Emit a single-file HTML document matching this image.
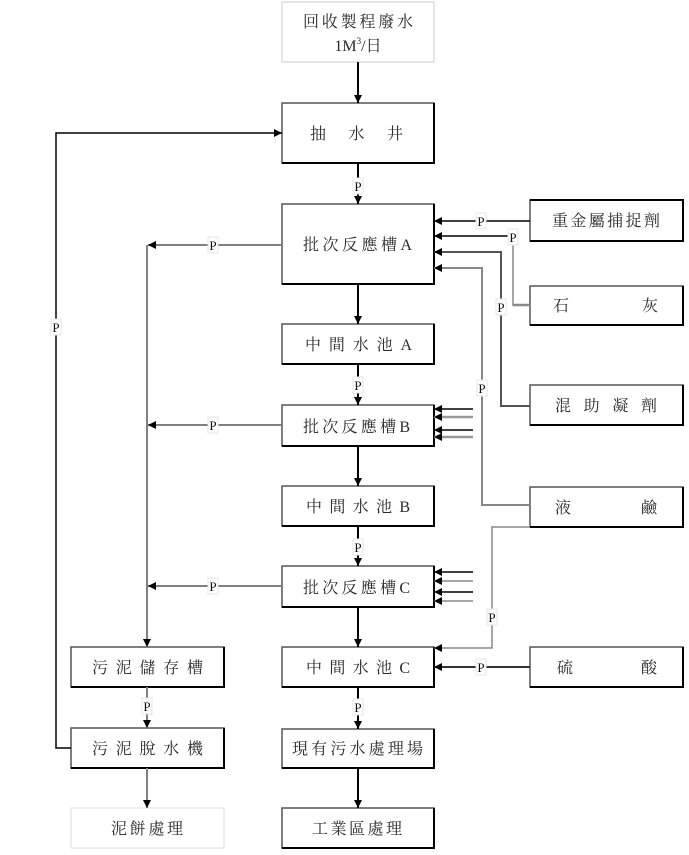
<!DOCTYPE html>
<html><head><meta charset="utf-8"><style>
html,body{margin:0;padding:0;background:#fff;}
svg{display:block;}
text{font-family:"Liberation Serif","Noto Serif CJK SC","Noto Serif CJK TC",serif;fill:#2a2a2a;font-size:16px;}
.p{font-size:13px;fill:#111;}
</style></head><body>
<svg width="689" height="855" viewBox="0 0 689 855" xmlns="http://www.w3.org/2000/svg">
<defs>
<marker id="ah" markerUnits="userSpaceOnUse" markerWidth="9" markerHeight="9" refX="8" refY="4" orient="auto">
<path d="M0,0 L8,4 L0,8 z" fill="#000"/>
</marker>
</defs>

<!-- top box -->
<rect x="282" y="2" width="152" height="60" fill="#fff" stroke="#ccc" stroke-width="1"/>
<text x="303" y="27" textLength="110" lengthAdjust="spacing">回收製程廢水</text>
<text x="358" y="51" text-anchor="middle">1M<tspan font-size="9" dy="-7">3</tspan><tspan dy="7">/日</tspan></text>

<!-- main column boxes -->
<g fill="#fff" stroke="#555" stroke-width="1.5">
<rect x="282" y="103" width="152" height="60"/>
<rect x="282" y="204" width="152" height="80"/>
<rect x="282" y="324" width="152" height="40"/>
<rect x="282" y="405" width="152" height="41"/>
<rect x="282" y="486" width="152" height="40"/>
<rect x="282" y="566" width="152" height="41"/>
<rect x="282" y="647" width="152" height="40"/>
<rect x="282" y="729" width="152" height="39"/>
<rect x="282" y="808" width="152" height="40"/>
<rect x="71" y="647" width="153" height="40"/>
<rect x="71" y="728" width="153" height="40"/>
<rect x="530" y="200" width="153" height="41"/>
<rect x="530" y="286" width="153" height="39"/>
<rect x="530" y="385" width="153" height="40"/>
<rect x="530" y="487" width="153" height="40"/>
<rect x="530" y="647" width="153" height="40"/>
</g>
<!-- darker bottom / right edges -->
<g stroke="#000" stroke-width="2" fill="none">
<path d="M282,163 H434 V103"/>
<path d="M282,284 H434 V204"/>
<path d="M282,364 H434 V324"/>
<path d="M282,446 H434 V405"/>
<path d="M282,526 H434 V486"/>
<path d="M282,607 H434 V566"/>
<path d="M282,687 H434 V647"/>
<path d="M282,768 H434 V729"/>
<path d="M282,848 H434 V808"/>
<path d="M71,687 H224 V647"/>
<path d="M71,768 H224 V728"/>
<path d="M530,241 H683 V200 H530"/>
<path d="M530,325 H683 V286"/>
<path d="M530,425 H683 V385"/>
<path d="M530,527 H683 V487"/>
<path d="M530,687 H683 V647"/>
</g>
<!-- 泥餅處理 light box -->
<rect x="71" y="808" width="153" height="40" fill="#fff" stroke="#ddd" stroke-width="1"/>

<!-- box texts -->
<text x="310" y="139" textLength="93" lengthAdjust="spacing">抽水井</text>
<text x="303" y="250" textLength="109" lengthAdjust="spacing">批次反應槽A</text>
<text x="305" y="350" textLength="107" lengthAdjust="spacing">中間水池A</text>
<text x="303" y="432" textLength="107" lengthAdjust="spacing">批次反應槽B</text>
<text x="306" y="512" textLength="104" lengthAdjust="spacing">中間水池B</text>
<text x="303" y="593" textLength="107" lengthAdjust="spacing">批次反應槽C</text>
<text x="306" y="673" textLength="104" lengthAdjust="spacing">中間水池C</text>
<text x="292" y="754" textLength="131" lengthAdjust="spacing">現有污水處理場</text>
<text x="312" y="834" textLength="90" lengthAdjust="spacing">工業區處理</text>
<text x="92" y="673" textLength="111" lengthAdjust="spacing">污泥儲存槽</text>
<text x="92" y="754" textLength="111" lengthAdjust="spacing">污泥脫水機</text>
<text x="111" y="834" textLength="72" lengthAdjust="spacing">泥餅處理</text>
<text x="552" y="226" textLength="108" lengthAdjust="spacing">重金屬捕捉劑</text>
<text x="553" y="311" textLength="105" lengthAdjust="spacing">石灰</text>
<text x="555" y="411" textLength="102" lengthAdjust="spacing">混助凝劑</text>
<text x="555" y="513" textLength="102" lengthAdjust="spacing">液鹼</text>
<text x="557" y="673" textLength="100" lengthAdjust="spacing">硫酸</text>

<!-- center arrows -->
<g stroke="#000" stroke-width="2" fill="none" marker-end="url(#ah)">
<line x1="358" y1="62" x2="358" y2="103"/>
<line x1="358" y1="163" x2="358" y2="204"/>
<line x1="358" y1="284" x2="358" y2="324"/>
<line x1="358" y1="364" x2="358" y2="405"/>
<line x1="358" y1="446" x2="358" y2="486"/>
<line x1="358" y1="526" x2="358" y2="566"/>
<line x1="358" y1="607" x2="358" y2="647"/>
<line x1="358" y1="687" x2="358" y2="729"/>
<line x1="358" y1="768" x2="358" y2="808"/>
</g>

<!-- left gray sludge lines -->
<g stroke="#808080" stroke-width="2" fill="none" marker-end="url(#ah)">
<line x1="282" y1="245" x2="148" y2="245"/>
<line x1="282" y1="425" x2="148" y2="425"/>
<line x1="282" y1="586" x2="148" y2="586"/>
<line x1="147" y1="245" x2="147" y2="647"/>
<line x1="147" y1="687" x2="147" y2="728"/>
<line x1="147" y1="768" x2="147" y2="808"/>
</g>
<!-- return line -->
<polyline points="71,748 56,748 56,133 282,133" stroke="#000" stroke-width="1.5" fill="none" marker-end="url(#ah)"/>

<!-- right chemical lines -->
<line x1="530" y1="221" x2="434" y2="221" stroke="#000" stroke-width="1.5" marker-end="url(#ah)"/>
<line x1="513" y1="236" x2="434" y2="236" stroke="#000" stroke-width="1.5" marker-end="url(#ah)"/>
<polyline points="513,236 513,305 530,305" stroke="#888" stroke-width="1.5" fill="none"/>
<line x1="513" y1="305" x2="530" y2="305" stroke="#888" stroke-width="2.5"/>
<polyline points="530,406 501,406 501,252 434,252" stroke="#555" stroke-width="2" fill="none" marker-end="url(#ah)"/>
<polyline points="530,505 482,505 482,268 434,268" stroke="#888" stroke-width="2" fill="none" marker-end="url(#ah)"/>
<polyline points="530,527 492,527 492,648 434,648" stroke="#888" stroke-width="1.5" fill="none" marker-end="url(#ah)"/>
<line x1="530" y1="667" x2="434" y2="667" stroke="#333" stroke-width="2" marker-end="url(#ah)"/>

<!-- B inputs -->
<g fill="none" marker-end="url(#ah)">
<line x1="473" y1="409" x2="434" y2="409" stroke="#000" stroke-width="1.5"/>
<line x1="473" y1="417" x2="434" y2="417" stroke="#999" stroke-width="2.5"/>
<line x1="473" y1="430" x2="434" y2="430" stroke="#000" stroke-width="1.5"/>
<line x1="473" y1="437" x2="434" y2="437" stroke="#999" stroke-width="2.5"/>
<line x1="473" y1="572" x2="434" y2="572" stroke="#000" stroke-width="1.5"/>
<line x1="473" y1="581" x2="434" y2="581" stroke="#888" stroke-width="1.5"/>
<line x1="473" y1="592" x2="434" y2="592" stroke="#000" stroke-width="1.5"/>
<line x1="473" y1="601" x2="434" y2="601" stroke="#888" stroke-width="1.5"/>
</g>

<!-- P labels -->
<g>
<g transform="translate(358,186)"><rect x="-5" y="-8" width="10" height="16" fill="#fff" stroke="#e4e4e4"/><text class="p" x="0" y="5" text-anchor="middle">P</text></g>
<g transform="translate(358,385)"><rect x="-5" y="-8" width="10" height="16" fill="#fff" stroke="#e4e4e4"/><text class="p" x="0" y="5" text-anchor="middle">P</text></g>
<g transform="translate(358,547)"><rect x="-5" y="-8" width="10" height="16" fill="#fff" stroke="#e4e4e4"/><text class="p" x="0" y="5" text-anchor="middle">P</text></g>
<g transform="translate(358,707)"><rect x="-5" y="-8" width="10" height="16" fill="#fff" stroke="#e4e4e4"/><text class="p" x="0" y="5" text-anchor="middle">P</text></g>
<g transform="translate(213,245)"><rect x="-5" y="-8" width="10" height="16" fill="#fff" stroke="#e4e4e4"/><text class="p" x="0" y="5" text-anchor="middle">P</text></g>
<g transform="translate(213,425)"><rect x="-5" y="-8" width="10" height="16" fill="#fff" stroke="#e4e4e4"/><text class="p" x="0" y="5" text-anchor="middle">P</text></g>
<g transform="translate(213,586)"><rect x="-5" y="-8" width="10" height="16" fill="#fff" stroke="#e4e4e4"/><text class="p" x="0" y="5" text-anchor="middle">P</text></g>
<g transform="translate(147,706)"><rect x="-5" y="-8" width="10" height="16" fill="#fff" stroke="#e4e4e4"/><text class="p" x="0" y="5" text-anchor="middle">P</text></g>
<g transform="translate(56,327)"><rect x="-5" y="-8" width="10" height="16" fill="#fff" stroke="#e4e4e4"/><text class="p" x="0" y="5" text-anchor="middle">P</text></g>
<g transform="translate(481,221)"><rect x="-5" y="-8" width="10" height="16" fill="#fff" stroke="#e4e4e4"/><text class="p" x="0" y="5" text-anchor="middle">P</text></g>
<g transform="translate(513,237)"><rect x="-5" y="-8" width="10" height="16" fill="#fff" stroke="#e4e4e4"/><text class="p" x="0" y="5" text-anchor="middle">P</text></g>
<g transform="translate(501,307)"><rect x="-5" y="-8" width="10" height="16" fill="#fff" stroke="#e4e4e4"/><text class="p" x="0" y="5" text-anchor="middle">P</text></g>
<g transform="translate(482,388)"><rect x="-5" y="-8" width="10" height="16" fill="#fff" stroke="#e4e4e4"/><text class="p" x="0" y="5" text-anchor="middle">P</text></g>
<g transform="translate(492,617)"><rect x="-5" y="-8" width="10" height="16" fill="#fff" stroke="#e4e4e4"/><text class="p" x="0" y="5" text-anchor="middle">P</text></g>
<g transform="translate(481,667)"><rect x="-5" y="-8" width="10" height="16" fill="#fff" stroke="#e4e4e4"/><text class="p" x="0" y="5" text-anchor="middle">P</text></g>
</g>
</svg>
</body></html>
